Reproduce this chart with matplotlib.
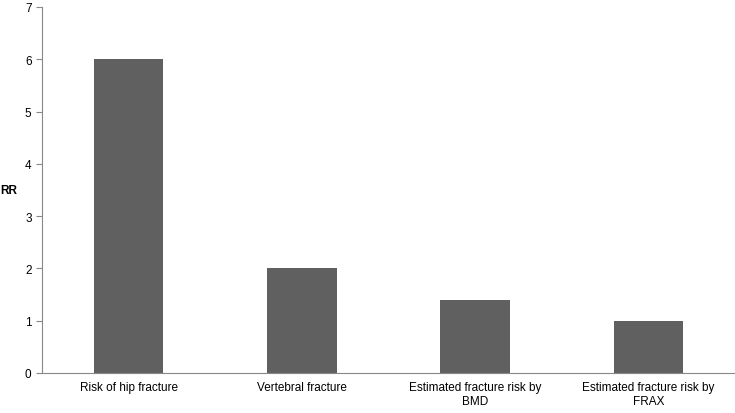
import matplotlib
matplotlib.use("Agg")
import matplotlib.pyplot as plt

categories = ["Risk of hip fracture", "Vertebral fracture",
              "Estimated fracture risk by\nBMD", "Estimated fracture risk by\nFRAX"]
rr_values = [6, 2, 1.4, 1]

plt.rcParams["font.family"] = "Liberation Sans"
fig = plt.figure(figsize=(7.35, 4.14), dpi=100)
ax = fig.add_axes([42/735, 1 - 374/414, 693/735, 366/414])

ax.bar(range(len(categories)), rr_values, width=0.4, color="#606060")
ax.set_xlim(-0.5, len(categories) - 0.5)
ax.set_ylim(0, 7)
ax.set_yticks(range(8))
ax.set_xticks(range(len(categories)))
ax.set_xticklabels(categories, fontsize=8.5, va="top")
ax.tick_params(axis="y", labelsize=8.5, direction="out", length=4, color="#888888")
ax.tick_params(axis="x", length=0, pad=6)
for s in ["top", "right"]:
    ax.spines[s].set_visible(False)
for s in ["left", "bottom"]:
    ax.spines[s].set_color("#888888")
ax.set_ylabel("RR", rotation=0, fontsize=8.5, fontweight="bold", labelpad=12, va="center")

fig.savefig("out.png", dpi=100)
